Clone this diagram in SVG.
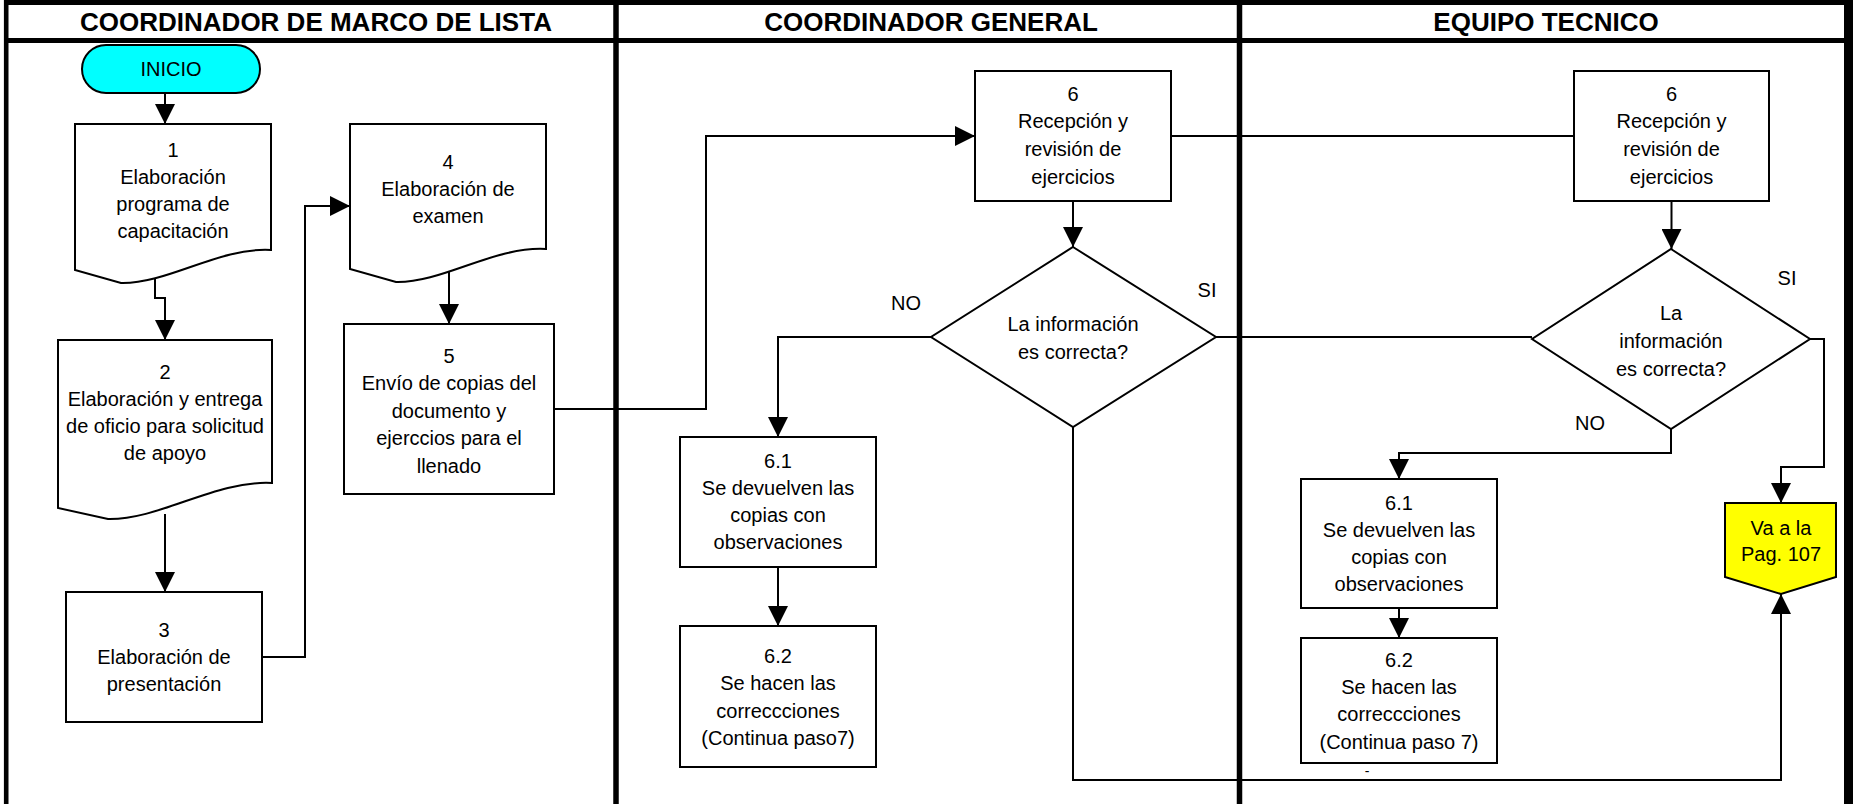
<svg xmlns="http://www.w3.org/2000/svg" width="1853" height="804" viewBox="0 0 1853 804">
  <defs>
    <marker id="arrow" markerUnits="userSpaceOnUse" markerWidth="20" markerHeight="20" refX="20" refY="10" orient="auto">
      <path d="M0,0 L20,10 L0,20 Z" fill="#000"/>
    </marker>
    <style>
      .lane { stroke: #000; fill: none; }
      .head { font-family: "Liberation Sans", Arial, sans-serif; font-weight: bold; font-size: 26px; text-anchor: middle; fill: #000; }
      .box { fill: #fff; stroke: #000; stroke-width: 2; }
      .t { font-family: "Liberation Sans", Arial, sans-serif; font-size: 20px; text-anchor: middle; fill: #000; }
      .conn { fill: none; stroke: #000; stroke-width: 2; }
      .arr { marker-end: url(#arrow); }
    </style>
  </defs>
  <rect width="1853" height="804" fill="#fff"/>

  <!-- swimlane frame -->
  <g id="lanes">
    <line class="lane" x1="4" y1="2.5" x2="1853" y2="2.5" stroke-width="5"/>
    <line class="lane" x1="4" y1="40.5" x2="1853" y2="40.5" stroke-width="5"/>
    <line class="lane" x1="6.2" y1="0" x2="6.2" y2="804" stroke-width="4.6"/>
    <line class="lane" x1="616" y1="0" x2="616" y2="804" stroke-width="5.5"/>
    <line class="lane" x1="1239.5" y1="0" x2="1239.5" y2="804" stroke-width="5.5"/>
    <rect x="1844" y="0" width="9" height="804" fill="#000"/>
    <text class="head" x="316" y="30.5">COORDINADOR DE MARCO DE LISTA</text>
    <text class="head" x="931" y="30.5">COORDINADOR GENERAL</text>
    <text class="head" x="1546" y="30.5">EQUIPO TECNICO</text>
  </g>

  <!-- connectors -->
  <g id="connectors">
    <path class="conn arr" d="M165,93 V124"/>
    <path class="conn arr" d="M155,278 V298 H165 V340"/>
    <path class="conn arr" d="M165,514 V592"/>
    <path class="conn arr" d="M262,657 H305 V206 H350"/>
    <path class="conn arr" d="M449,270 V324"/>
    <path class="conn arr" d="M554,409 H706 V136 H975"/>
    <path class="conn arr" d="M1073,201 V247"/>
    <path class="conn arr" d="M931,337 H778 V437"/>
    <path class="conn arr" d="M778,567 V626"/>
    <path class="conn" d="M1171,136 H1574"/>
    <path class="conn" d="M1216,337 H1532"/>
    <path class="conn arr" d="M1073,427 V780 H1781 V594"/>
    <path class="conn arr" d="M1671.5,201 V249"/>
    <path class="conn arr" d="M1671,429 V453 H1399 V479"/>
    <path class="conn arr" d="M1399,608 V638"/>
    <path class="conn arr" d="M1810,339 H1824 V467 H1781 V503"/>
    <text class="t" x="1367" y="776" style="font-size:14px">-</text>
  </g>

  <g id="inicio">
    <rect x="82" y="45" width="178" height="48" rx="24" ry="24" fill="#00ffff" stroke="#000" stroke-width="2"/>
    <text class="t" x="171" y="76">INICIO</text>
  </g>

  <g id="paso1">
    <path class="box" d="M75,124 H271 V250 C219,247 168,284 121,283 L75,270 Z"/>
    <text class="t" x="173" y="157">1</text>
    <text class="t" x="173" y="184">Elaboración</text>
    <text class="t" x="173" y="211">programa de</text>
    <text class="t" x="173" y="238">capacitación</text>
  </g>

  <g id="paso2">
    <path class="box" d="M58,340 H272 V483 C215,480 160,520 108,519 L58,508 Z"/>
    <text class="t" x="165" y="379">2</text>
    <text class="t" x="165" y="406">Elaboración y entrega</text>
    <text class="t" x="165" y="433">de oficio para solicitud</text>
    <text class="t" x="165" y="460">de apoyo</text>
  </g>

  <g id="paso3">
    <rect class="box" x="66" y="592" width="196" height="130"/>
    <text class="t" x="164" y="637">3</text>
    <text class="t" x="164" y="664">Elaboración de</text>
    <text class="t" x="164" y="691">presentación</text>
  </g>

  <g id="paso4">
    <path class="box" d="M350,124 H546 V249 C494,246 443,283 396,282 L350,269 Z"/>
    <text class="t" x="448" y="169">4</text>
    <text class="t" x="448" y="196">Elaboración de</text>
    <text class="t" x="448" y="223">examen</text>
  </g>

  <g id="paso5">
    <rect class="box" x="344" y="324" width="210" height="170"/>
    <text class="t" x="449" y="363">5</text>
    <text class="t" x="449" y="390">Envío de copias del</text>
    <text class="t" x="449" y="418">documento y</text>
    <text class="t" x="449" y="445">ejerccios para el</text>
    <text class="t" x="449" y="473">llenado</text>
  </g>

  <g id="cg-paso6">
    <rect class="box" x="975" y="71" width="196" height="130"/>
    <text class="t" x="1073" y="101">6</text>
    <text class="t" x="1073" y="128">Recepción y</text>
    <text class="t" x="1073" y="156">revisión de</text>
    <text class="t" x="1073" y="184">ejercicios</text>
  </g>

  <g id="cg-decision">
    <polygon class="box" points="1073,247 1216,337 1073,427 931,337"/>
    <text class="t" x="1073" y="331">La información</text>
    <text class="t" x="1073" y="359">es correcta?</text>
    <text class="t" x="906" y="310">NO</text>
    <text class="t" x="1207" y="297">SI</text>
  </g>

  <g id="cg-paso6-1">
    <rect class="box" x="680" y="437" width="196" height="130"/>
    <text class="t" x="778" y="468">6.1</text>
    <text class="t" x="778" y="495">Se devuelven las</text>
    <text class="t" x="778" y="522">copias con</text>
    <text class="t" x="778" y="549">observaciones</text>
  </g>

  <g id="cg-paso6-2">
    <rect class="box" x="680" y="626" width="196" height="141"/>
    <text class="t" x="778" y="663">6.2</text>
    <text class="t" x="778" y="690">Se hacen las</text>
    <text class="t" x="778" y="718">correccciones</text>
    <text class="t" x="778" y="745">(Continua paso7)</text>
  </g>

  <g id="et-paso6">
    <rect class="box" x="1574" y="71" width="195" height="130"/>
    <text class="t" x="1671.5" y="101">6</text>
    <text class="t" x="1671.5" y="128">Recepción y</text>
    <text class="t" x="1671.5" y="156">revisión de</text>
    <text class="t" x="1671.5" y="184">ejercicios</text>
  </g>

  <g id="et-decision">
    <polygon class="box" points="1671,249 1810,339 1671,429 1532,339"/>
    <text class="t" x="1671" y="320">La</text>
    <text class="t" x="1671" y="348">información</text>
    <text class="t" x="1671" y="376">es correcta?</text>
    <text class="t" x="1787" y="285">SI</text>
    <text class="t" x="1590" y="430">NO</text>
  </g>

  <g id="et-paso6-1">
    <rect class="box" x="1301" y="479" width="196" height="129"/>
    <text class="t" x="1399" y="510">6.1</text>
    <text class="t" x="1399" y="537">Se devuelven las</text>
    <text class="t" x="1399" y="564">copias con</text>
    <text class="t" x="1399" y="591">observaciones</text>
  </g>

  <g id="et-paso6-2">
    <rect class="box" x="1301" y="638" width="196" height="125"/>
    <text class="t" x="1399" y="667">6.2</text>
    <text class="t" x="1399" y="694">Se hacen las</text>
    <text class="t" x="1399" y="721">correccciones</text>
    <text class="t" x="1399" y="749">(Continua paso 7)</text>
  </g>

  <g id="pag107">
    <polygon points="1725,503 1836,503 1836,577 1781,594 1725,577" fill="#ffff00" stroke="#000" stroke-width="2"/>
    <text class="t" x="1781" y="535">Va a la</text>
    <text class="t" x="1781" y="561">Pag. 107</text>
  </g>
</svg>
